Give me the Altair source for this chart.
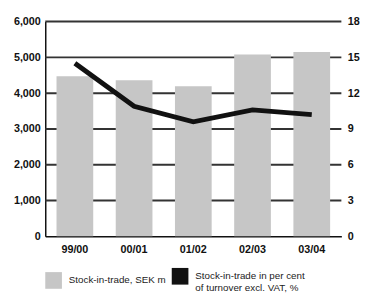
import altair as alt
import pandas as pd

years = ["99/00", "00/01", "01/02", "02/03", "03/04"]
stock = [4470, 4360, 4190, 5080, 5150]
pct = [14.5, 10.9, 9.6, 10.6, 10.2]
series = ["Stock-in-trade, SEK m", "Stock-in-trade in per cent|of turnover excl. VAT, %"]
left_ticks = [0, 1000, 2000, 3000, 4000, 5000, 6000]
right_ticks = [0, 3, 6, 9, 12, 15, 18]

df = pd.DataFrame({"year": years, "stock": stock, "pct": pct, "series": series[0]})
grid_df = pd.DataFrame({"v": left_ticks[1:]})

FONT = "Liberation Sans"
ydom = alt.Scale(domain=[0, 6000], nice=False)

x = alt.X("year:N", sort=years, title=None,
          scale=alt.Scale(paddingInner=0.38, paddingOuter=0.19),
          axis=alt.Axis(labelAngle=0, ticks=False, domain=True, domainColor="#111",
                        domainWidth=1.5, labelFont=FONT, labelFontSize=11,
                        labelFontWeight="bold", labelColor="#111", labelPadding=8,
                        grid=False))

grid = alt.Chart(grid_df).mark_rule(color="#333333", strokeWidth=2).encode(
    y=alt.Y("v:Q", scale=ydom, axis=None),
)

bars = alt.Chart(df).mark_bar(color="#c6c6c6").encode(
    x=x,
    y=alt.Y("stock:Q", title=None, scale=ydom,
            axis=alt.Axis(values=left_ticks, format=",d", ticks=False, domain=True,
                          domainColor="#111", domainWidth=1.5, grid=False,
                          labelFont=FONT, labelFontSize=11, labelFontWeight="bold",
                          labelColor="#111", labelPadding=5)),
    fill=alt.Fill("series:N", scale=alt.Scale(domain=series, range=["#c6c6c6", "#111111"]),
                  legend=alt.Legend(title=None, orient="none", legendX=0, legendY=251,
                                    direction="horizontal", symbolType="square",
                                    symbolSize=289, symbolStrokeWidth=0,
                                    labelFont=FONT, labelFontSize=10, labelColor="#222",
                                    labelExpr="split(datum.label, '|')",
                                    labelOffset=7, columnPadding=6, labelLimit=200)),
)

line = alt.Chart(df).mark_line(color="#111", strokeWidth=5).encode(
    x=alt.X("year:N", sort=years),
    y=alt.Y("pct:Q", title=None, scale=alt.Scale(domain=[0, 18], nice=False),
            axis=alt.Axis(values=right_ticks, orient="right", ticks=False, domain=False,
                          grid=False, labelFont=FONT, labelFontSize=11,
                          labelFontWeight="bold", labelColor="#111", labelPadding=6)),
)

chart = alt.layer(grid, bars, line).resolve_scale(y="independent").properties(
    width=302, height=219,
    background="white",
    padding={"left": 5, "top": 5, "right": 0, "bottom": 0},
).configure_view(stroke=None)

chart.save("out.html", embed_options={"renderer": "svg", "actions": False})
